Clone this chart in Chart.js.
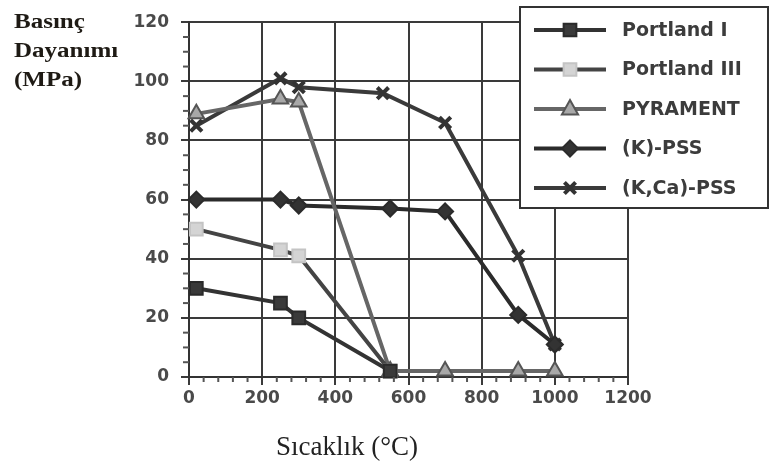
<!DOCTYPE html>
<html>
<head>
<meta charset="utf-8">
<script src="https://cdn.jsdelivr.net/npm/chart.js@4/dist/chart.umd.min.js"></script>
<style>
  html, body { margin: 0; padding: 0; background: #fff; }
  #wrap { width: 771px; height: 464px; position: relative; }
</style>
</head>
<body>
<div id="wrap"><canvas id="chart"></canvas></div>
<script>
// basınç dayanımı (MPa) vs sıcaklık (°C)
const seriesNames = ['Portland I', 'Portland III', 'PYRAMENT', '(K)-PSS', '(K,Ca)-PSS']
const portland1Temp = [20, 250, 300, 550]
const portland1 = [30, 25, 20, 2]
const portland3Temp = [20, 250, 300, 550]
const portland3 = [50, 43, 41, 2]
const pyramentTemp = [20, 250, 300, 550, 700, 900, 1000]
const pyrament = [89, 94, 93, 2, 2, 2, 2]
const kpssTemp = [20, 250, 300, 550, 700, 900, 1000]
const kpss = [60, 60, 58, 57, 56, 21, 11]
const kcaTemp = [20, 250, 300, 530, 700, 900, 1000]
const kca = [85, 101, 98, 96, 86, 41, 11]
const xTicks = [0, 200, 400, 600, 800, 1000, 1200]
const yTicks = [0, 20, 40, 60, 80, 100, 120]

const toPoints = (xs, ys) => xs.map((x, i) => ({ x: x, y: ys[i] }))

const styles = [
    { line: '#333', fill: '#3a3a3a', border: '#2a2a2a', shape: 'rect', r: 9 },
    { line: '#444', fill: '#d4d4d4', border: '#c4c4c4', shape: 'rect', r: 9 },
    { line: '#666', fill: '#a8a8a8', border: '#555', shape: 'triangle', r: 9 },
    { line: '#2b2b2b', fill: '#333', border: '#2b2b2b', shape: 'rectRot', r: 8 },
    { line: '#3a3a3a', fill: '#333', border: '#333', shape: 'crossRot', r: 8 },
]
const series = [
    toPoints(portland1Temp, portland1),
    toPoints(portland3Temp, portland3),
    toPoints(pyramentTemp, pyrament),
    toPoints(kpssTemp, kpss),
    toPoints(kcaTemp, kca),
]

// small ticks between the labelled ones
const minorTicks = {
    id: 'minorTicks',
    afterDraw(chart) {
        const { ctx, scales: { x, y } } = chart
        ctx.save()
        ctx.strokeStyle = '#555'
        ctx.lineWidth = 2
        for (let v = 5; v < 120; v += 5) {
            if (v % 20 === 0) continue
            const py = y.getPixelForValue(v)
            ctx.beginPath()
            ctx.moveTo(x.left - 6, py)
            ctx.lineTo(x.left, py)
            ctx.stroke()
        }
        for (let v = 40; v < 1200; v += 40) {
            if (v % 200 === 0) continue
            const px = x.getPixelForValue(v)
            ctx.beginPath()
            ctx.moveTo(px, y.bottom)
            ctx.lineTo(px, y.bottom + 5)
            ctx.stroke()
        }
        ctx.restore()
    }
}

// axis captions in serif
const captions = {
    id: 'captions',
    afterDraw(chart) {
        const { ctx } = chart
        ctx.save()
        ctx.fillStyle = '#1e1a14'
        ctx.textBaseline = 'alphabetic'
        ctx.font = 'bold 20px "Liberation Serif", serif'
        const lines = ['Basınç', 'Dayanımı', '(MPa)']
        lines.forEach((t, i) => {
            ctx.save()
            ctx.translate(14, 28 + i * 29)
            ctx.scale(1.25, 1)
            ctx.fillText(t, 0, 0)
            ctx.restore()
        })
        ctx.fillStyle = '#222'
        ctx.font = '27px "Liberation Serif", serif'
        ctx.textAlign = 'center'
        ctx.fillText('Sıcaklık (°C)', 347, 455)
        ctx.restore()
    }
}

function drawMarker(ctx, st, x, y) {
    ctx.save()
    ctx.fillStyle = st.fill
    ctx.strokeStyle = st.border
    ctx.lineWidth = 2
    const r = st.r
    ctx.beginPath()
    if (st.shape === 'rect') {
        const s = r * Math.SQRT1_2
        ctx.rect(x - s, y - s, 2 * s, 2 * s)
        ctx.fill(); ctx.stroke()
    } else if (st.shape === 'triangle') {
        ctx.moveTo(x, y - r)
        ctx.lineTo(x + r * 0.9, y + r * 0.6)
        ctx.lineTo(x - r * 0.9, y + r * 0.6)
        ctx.closePath()
        ctx.fill(); ctx.stroke()
    } else if (st.shape === 'rectRot') {
        ctx.moveTo(x, y - r); ctx.lineTo(x + r, y); ctx.lineTo(x, y + r); ctx.lineTo(x - r, y)
        ctx.closePath()
        ctx.fill(); ctx.stroke()
    } else {
        ctx.lineWidth = 4
        const s = r * 0.7
        ctx.moveTo(x - s, y - s); ctx.lineTo(x + s, y + s)
        ctx.moveTo(x + s, y - s); ctx.lineTo(x - s, y + s)
        ctx.stroke()
    }
    ctx.restore()
}

// boxed legend sitting over the top right corner
const boxLegend = {
    id: 'boxLegend',
    afterDraw(chart) {
        const { ctx } = chart
        ctx.save()
        ctx.fillStyle = '#fff'
        ctx.fillRect(520, 7, 248, 201)
        ctx.strokeStyle = '#333'
        ctx.lineWidth = 2
        ctx.strokeRect(520, 7, 248, 201)
        ctx.font = 'bold 19px "DejaVu Sans", sans-serif'
        ctx.textBaseline = 'middle'
        seriesNames.forEach((name, i) => {
            const y = 30 + i * 39.5
            const st = styles[i]
            ctx.strokeStyle = st.line
            ctx.lineWidth = 4
            ctx.beginPath()
            ctx.moveTo(534, y)
            ctx.lineTo(606, y)
            ctx.stroke()
            drawMarker(ctx, st, 570, y)
            ctx.fillStyle = '#3c3c3c'
            ctx.fillText(name, 622, y + 1)
        })
        ctx.restore()
    }
}

const ctx = document.getElementById('chart').getContext('2d')
const chart = new Chart(ctx, {
    type: 'scatter',
    data: {
        datasets: series.map((pts, i) => ({
            label: seriesNames[i],
            data: pts,
            showLine: true,
            borderColor: styles[i].line,
            borderWidth: 4,
            pointStyle: styles[i].shape,
            pointRadius: styles[i].r,
            pointBackgroundColor: styles[i].fill,
            pointBorderColor: styles[i].border,
            pointBorderWidth: i === 4 ? 4 : 2,
        }))
    },
    options: {
        responsive: true,
        maintainAspectRatio: false,
        animation: false,
        clip: false,
        layout: { padding: { left: 0, right: 143, top: 14, bottom: 47 } },
        plugins: {
            legend: { display: false },
            tooltip: { enabled: false },
        },
        scales: {
            x: {
                type: 'linear',
                min: 0,
                max: 1200,
                afterBuildTicks: (s) => { s.ticks = xTicks.map((v) => ({ value: v })) },
                afterFit: (s) => { s.height = 40 },
                border: { color: '#333', width: 2 },
                grid: { color: '#3a3a3a', lineWidth: 2, tickLength: 8 },
                ticks: {
                    color: '#4a4a4a',
                    padding: 3,
                    maxRotation: 0,
                    callback: (v) => String(v),
                    font: { family: '"DejaVu Sans", sans-serif', size: 17, weight: 'bold' },
                },
            },
            y: {
                min: 0,
                max: 120,
                afterBuildTicks: (s) => { s.ticks = yTicks.map((v) => ({ value: v })) },
                afterFit: (s) => { s.width = 189 },
                border: { color: '#333', width: 2 },
                grid: { color: '#3a3a3a', lineWidth: 2, tickLength: 8 },
                ticks: {
                    color: '#4a4a4a',
                    padding: 12,
                    callback: (v) => String(v),
                    font: { family: '"DejaVu Sans", sans-serif', size: 17, weight: 'bold' },
                },
            },
        },
    },
    plugins: [minorTicks, captions, boxLegend],
})
</script>
</body>
</html>
